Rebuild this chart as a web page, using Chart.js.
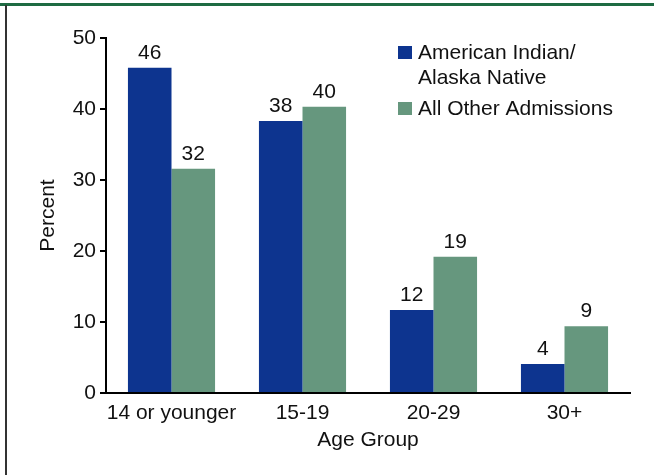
<!DOCTYPE html>
<html>
<head>
<meta charset="utf-8">
<script src="https://cdn.jsdelivr.net/npm/chart.js@4.4.0/dist/chart.umd.min.js"></script>
<style>
  html, body { margin: 0; padding: 0; background: #fff; }
  #frame { position: absolute; left: 0; top: 0; width: 654px; height: 475px; }
  #topline { position: absolute; left: 0; top: 3px; width: 654px; height: 3px; background: #1e6b42; }
  #leftline { position: absolute; left: 5px; top: 5px; width: 2px; height: 470px; background: #333; }
  canvas { position: absolute; left: 0; top: 0; }
</style>
</head>
<body>
<div id="frame">
  <canvas id="c" width="654" height="475"></canvas>
  <div id="topline"></div>
  <div id="leftline"></div>
</div>
<script>
const categories = ["14 or younger", "15-19", "20-29", "30+"];
const seriesNames = [["American Indian/", "Alaska Native"], ["All Other Admissions"]];
const aianValues = [45.8, 38.3, 11.7, 4.1];
const otherValues = [31.6, 40.3, 19.2, 9.4];
const aianLabels = ["46", "38", "12", "4"];
const otherLabels = ["32", "40", "19", "9"];
const yTicks = [0, 10, 20, 30, 40, 50];

const FONT = "'Liberation Sans', Arial, Helvetica, sans-serif";
const FS = 21;
const BLUE = "#0d348f";
const GREEN = "#66977e";

const valueLabels = {
  id: "valueLabels",
  afterDatasetsDraw(chart) {
    const ctx = chart.ctx;
    const lbls = [aianLabels, otherLabels];
    ctx.save();
    ctx.fillStyle = "#111";
    ctx.font = FS + "px " + FONT;
    ctx.textAlign = "center";
    ctx.textBaseline = "alphabetic";
    chart.data.datasets.forEach((ds, i) => {
      chart.getDatasetMeta(i).data.forEach((bar, j) => {
        ctx.fillText(lbls[i][j], bar.x, bar.y - 9);
      });
    });
    ctx.restore();
  }
};

const customLegend = {
  id: "customLegend",
  afterDraw(chart) {
    const ctx = chart.ctx;
    ctx.save();
    ctx.font = FS + "px " + FONT;
    ctx.textBaseline = "middle";
    ctx.textAlign = "left";
    let y = 53;
    chart.data.datasets.forEach((ds, i) => {
      ctx.fillStyle = ds.backgroundColor;
      ctx.fillRect(398, y - 7, 14, 13);
      ctx.fillStyle = "#111";
      seriesNames[i].forEach((line) => {
        ctx.fillText(line, 418, y);
        y += 25;
      });
      y += 6;
    });
    ctx.restore();
  }
};

new Chart(document.getElementById("c"), {
  type: "bar",
  data: {
    labels: categories,
    datasets: [
      { label: seriesNames[0].join(" "), data: aianValues, backgroundColor: BLUE, barPercentage: 1, categoryPercentage: 0.665 },
      { label: seriesNames[1].join(" "), data: otherValues, backgroundColor: GREEN, barPercentage: 1, categoryPercentage: 0.665 }
    ]
  },
  options: {
    responsive: false,
    animation: false,
    events: [],
    layout: { padding: { left: 36, right: 24, top: 38, bottom: 0 } },
    plugins: { legend: { display: false }, tooltip: { enabled: false } },
    scales: {
      x: {
        grid: { display: true, drawOnChartArea: false, drawTicks: false },
        border: { display: true, color: "#000", width: 2 },
        ticks: { color: "#111", font: { size: FS, family: FONT }, padding: 8, maxRotation: 0, autoSkip: false },
        title: { display: true, text: "Age Group", color: "#111", font: { size: FS, family: FONT }, padding: { top: 0, bottom: 22 } },
        afterFit(scale) { scale.height = 475 - 393; }
      },
      y: {
        min: 0, max: 50,
        afterBuildTicks(scale) { scale.ticks = yTicks.map(v => ({ value: v })); },
        grid: { display: true, drawOnChartArea: false, drawTicks: true, tickLength: 6, color: "#000", lineWidth: 2 },
        border: { display: true, color: "#000", width: 2 },
        ticks: { color: "#111", font: { size: FS, family: FONT }, padding: 4 },
        title: { display: true, text: "Percent", color: "#111", font: { size: FS, family: FONT }, padding: 0 },
        afterFit(scale) { scale.width = 70; }
      }
    }
  },
  plugins: [valueLabels, customLegend]
});
</script>
</body>
</html>
